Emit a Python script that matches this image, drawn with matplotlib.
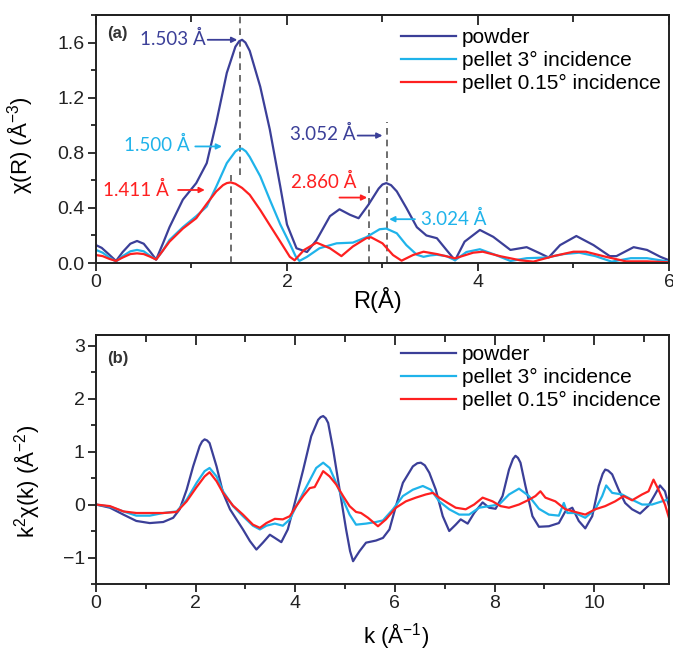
import matplotlib
matplotlib.use('Agg')

import matplotlib.pyplot as plt
from matplotlib.ticker import MultipleLocator, FormatStrFormatter

plt.rcParams['font.family'] = ['Liberation Sans', 'DejaVu Sans']
plt.rcParams['mathtext.fontset'] = 'custom'
plt.rcParams['mathtext.rm'] = 'Liberation Sans'
plt.rcParams['mathtext.it'] = 'Liberation Sans:italic'

# ---- (a) Fourier transform magnitude ----
r_powder = [0.0, 0.06, 0.14, 0.21, 0.28, 0.36, 0.43, 0.50, 0.57, 0.63, 0.70, 0.77, 0.91, 1.05,
            1.16, 1.26, 1.37, 1.46, 1.50, 1.53, 1.565, 1.61, 1.72, 1.82, 1.93, 2.0, 2.1, 2.21, 2.31, 2.45,
            2.55, 2.66, 2.75, 2.85, 2.96, 3.0, 3.04, 3.09, 3.15, 3.25, 3.36, 3.46, 3.57, 3.67, 3.76, 3.86,
            4.02, 4.16, 4.34, 4.51, 4.65, 4.74, 4.86, 5.03, 5.21, 5.38, 5.45, 5.63, 5.77, 5.91, 6.0]
chi_powder = [0.13, 0.11, 0.06, 0.015, 0.08, 0.14, 0.16, 0.14, 0.08, 0.025, 0.14, 0.26, 0.46, 0.58,
              0.725, 1.02, 1.38, 1.57, 1.61, 1.62, 1.60, 1.54, 1.28, 0.97, 0.555, 0.28, 0.107, 0.08, 0.167, 0.34,
              0.39, 0.35, 0.325, 0.42, 0.54, 0.57, 0.58, 0.565, 0.52, 0.40, 0.26, 0.20, 0.18, 0.095, 0.02, 0.155,
              0.24, 0.19, 0.095, 0.115, 0.07, 0.04, 0.13, 0.196, 0.13, 0.05, 0.05, 0.115, 0.095, 0.045, 0.02]

r_pellet3 = [0.0, 0.07, 0.14, 0.21, 0.28, 0.36, 0.43, 0.50, 0.57, 0.63, 0.70, 0.77, 0.91, 1.05, 1.16,
             1.26, 1.37, 1.46, 1.50, 1.53, 1.57, 1.61, 1.72, 1.82, 1.93, 2.03, 2.09, 2.13, 2.21, 2.34, 2.52, 2.69,
             2.83, 2.97, 3.04, 3.15, 3.25, 3.36, 3.43, 3.50, 3.57, 3.67, 3.76, 3.88, 4.02, 4.16, 4.34,
             4.51, 4.72, 4.9, 5.06, 5.23, 5.4, 5.6, 5.77, 6.0]
chi_pellet3 = [0.095, 0.075, 0.04, 0.01, 0.05, 0.085, 0.095, 0.085, 0.05, 0.025, 0.09, 0.167, 0.26, 0.34, 0.41,
               0.555, 0.725, 0.81, 0.828, 0.83, 0.81, 0.77, 0.63, 0.46, 0.28, 0.14, 0.05, 0.015, 0.045, 0.107, 0.143, 0.148,
               0.187, 0.245, 0.25, 0.216, 0.13, 0.06, 0.045, 0.055, 0.06, 0.05, 0.02, 0.08, 0.10, 0.065, 0.015,
               0.035, 0.04, 0.065, 0.075, 0.05, 0.01, 0.035, 0.035, 0.01]

r_pellet015 = [0.0, 0.07, 0.14, 0.21, 0.28, 0.36, 0.43, 0.50, 0.57, 0.63, 0.70, 0.77, 0.91, 1.05, 1.16,
               1.26, 1.33, 1.37, 1.41, 1.46, 1.53, 1.61, 1.72, 1.82, 1.93, 2.03, 2.08, 2.18, 2.31, 2.45, 2.57, 2.69,
               2.83, 2.88, 3.0, 3.11, 3.2, 3.32, 3.43, 3.57, 3.76, 3.95, 4.05, 4.23, 4.44, 4.58, 4.79,
               5.0, 5.13, 5.34, 5.55, 5.77, 6.0]
chi_pellet015 = [0.058, 0.05, 0.03, 0.015, 0.04, 0.065, 0.07, 0.065, 0.045, 0.025, 0.09, 0.155, 0.25, 0.325, 0.43,
                 0.52, 0.565, 0.58, 0.585, 0.575, 0.545, 0.495, 0.385, 0.275, 0.155, 0.045, 0.02, 0.095, 0.148, 0.107, 0.05, 0.12,
                 0.18, 0.187, 0.143, 0.058, 0.017, 0.058, 0.082, 0.065, 0.034, 0.075, 0.082, 0.05, 0.02, 0.01, 0.05,
                 0.082, 0.082, 0.045, 0.012, 0.012, 0.005]

# ---- (b) k-space oscillations ----
k_powder = [0, 0.28, 0.55, 0.81, 1.08, 1.35, 1.55, 1.68, 1.82, 1.95, 2.08, 2.13, 2.18, 2.23, 2.28, 2.42, 2.55, 2.69,
            2.82, 2.95, 3.09, 3.22, 3.35, 3.49, 3.59, 3.72, 3.85, 3.99, 4.16, 4.32, 4.46, 4.51, 4.56, 4.61, 4.66, 4.76,
            4.89, 5.02, 5.10, 5.16, 5.22, 5.29, 5.42, 5.62, 5.76, 5.89, 6.02, 6.16, 6.36, 6.45, 6.52, 6.60, 6.69, 6.82, 6.96, 7.09,
            7.22, 7.32, 7.46, 7.59, 7.76, 7.89, 8.02, 8.16, 8.29, 8.37, 8.42, 8.47, 8.52, 8.62, 8.76, 8.89, 9.09, 9.29,
            9.42, 9.56, 9.69, 9.82, 9.96, 10.09, 10.17, 10.22, 10.28, 10.36, 10.49, 10.62, 10.76, 10.92, 11.09, 11.22,
            11.32, 11.42, 11.5]
k2chi_powder = [0, -0.06, -0.19, -0.31, -0.35, -0.33, -0.25, -0.09, 0.28, 0.72, 1.1, 1.19, 1.23, 1.21, 1.16, 0.72, 0.22, -0.09,
                -0.28, -0.47, -0.69, -0.85, -0.72, -0.57, -0.63, -0.71, -0.47, 0.03, 0.66, 1.29, 1.6, 1.65, 1.67, 1.63, 1.54, 1.04,
                0.28, -0.47, -0.88, -1.07, -0.98, -0.88, -0.72, -0.68, -0.63, -0.47, -0.03, 0.41, 0.72, 0.78, 0.79, 0.74, 0.6, 0.28, -0.22, -0.5,
                -0.38, -0.28, -0.36, -0.16, 0.04, -0.06, -0.08, 0.16, 0.66, 0.86, 0.92, 0.88, 0.79, 0.35, -0.22, -0.42, -0.41, -0.35,
                -0.13, -0.06, -0.31, -0.45, -0.22, 0.35, 0.58, 0.66, 0.64, 0.57, 0.28, 0.03, -0.09, -0.17, -0.02, 0.19,
                0.36, 0.25, -0.03]

k_pellet3 = [0, 0.28, 0.55, 0.81, 1.08, 1.35, 1.62, 1.82, 2.02, 2.18, 2.28, 2.42, 2.55, 2.75, 2.95, 3.15,
             3.29, 3.42, 3.59, 3.75, 3.89, 4.02, 4.22, 4.42, 4.56, 4.69, 4.82, 4.96, 5.09, 5.22, 5.42, 5.62,
             5.76, 5.96, 6.16, 6.36, 6.56, 6.72, 6.89, 7.09, 7.29, 7.49, 7.69, 7.89, 8.09, 8.29, 8.49, 8.69,
             8.89, 9.09, 9.29, 9.39, 9.46, 9.62, 9.82, 10.02, 10.16, 10.24, 10.36, 10.56, 10.76, 10.96, 11.16,
             11.36, 11.5]
k2chi_pellet3 = [0, -0.04, -0.13, -0.21, -0.21, -0.16, -0.13, 0.09, 0.41, 0.63, 0.69, 0.53, 0.25, -0.03, -0.22, -0.4,
                 -0.47, -0.4, -0.36, -0.4, -0.28, -0.03, 0.33, 0.69, 0.79, 0.69, 0.41, 0.09, -0.19, -0.38, -0.36, -0.33,
                 -0.3, -0.09, 0.16, 0.28, 0.35, 0.28, 0.06, -0.09, -0.19, -0.19, -0.06, -0.03, 0.0, 0.19, 0.3, 0.16,
                 -0.08, -0.19, -0.21, 0.03, -0.16, -0.16, -0.25, -0.09, 0.16, 0.36, 0.22, 0.19, 0.09, 0.0, 0.0,
                 0.06, 0.1]

k_pellet015 = [0, 0.28, 0.55, 0.81, 1.08, 1.35, 1.62, 1.82, 2.02, 2.18, 2.28, 2.42, 2.55, 2.75, 2.95, 3.15,
               3.29, 3.42, 3.59, 3.75, 3.89, 4.02, 4.16, 4.29, 4.39, 4.56, 4.69, 4.82, 4.96, 5.09, 5.22, 5.32,
               5.46, 5.66, 5.82, 6.02, 6.22, 6.42, 6.62, 6.76, 6.89, 7.06, 7.22, 7.42, 7.59, 7.76, 7.96, 8.12,
               8.29, 8.49, 8.69, 8.82, 8.92, 9.02, 9.22, 9.42, 9.62, 9.82, 10.02, 10.22, 10.42, 10.59, 10.76,
               10.96, 11.09, 11.19, 11.29, 11.42, 11.5]
k2chi_pellet015 = [0, -0.03, -0.13, -0.16, -0.16, -0.16, -0.14, 0.06, 0.33, 0.53, 0.61, 0.44, 0.22, -0.02, -0.19, -0.38,
                   -0.44, -0.35, -0.27, -0.28, -0.22, -0.03, 0.16, 0.31, 0.33, 0.63, 0.53, 0.38, 0.16, -0.03, -0.14, -0.16,
                   -0.25, -0.41, -0.28, -0.06, 0.06, 0.13, 0.19, 0.22, 0.13, 0.03, -0.06, -0.09, 0.0, 0.13, 0.06, -0.03,
                   -0.06, 0.0, 0.09, 0.16, 0.25, 0.13, 0.06, -0.09, -0.14, -0.19, -0.09, -0.03, 0.06, 0.16, 0.08,
                   0.19, 0.25, 0.47, 0.28, 0.0, -0.25]

series_labels = ['powder', 'pellet 3° incidence', 'pellet 0.15° incidence']

# fitted first/second shell peak positions (Å)
peak_powder = [1.503, 3.052]
peak_pellet3 = [1.500, 3.024]
peak_pellet015 = [1.411, 2.860]

c_powder = '#3b3f98'
c_pellet3 = '#1fb3ea'
c_pellet015 = '#fe2020'

fig = plt.figure(figsize=(6.73, 6.52), dpi=100)
ax1 = fig.add_axes([0.1426, 0.5966, 0.8514, 0.3804])
ax2 = fig.add_axes([0.1426, 0.1043, 0.8514, 0.3819])

lw = 1.6
ax1.plot(r_powder, chi_powder, color=c_powder, lw=lw, label=series_labels[0])
ax1.plot(r_pellet3, chi_pellet3, color=c_pellet3, lw=lw, label=series_labels[1])
ax1.plot(r_pellet015, chi_pellet015, color=c_pellet015, lw=lw, label=series_labels[2])

ax2.plot(k_powder, k2chi_powder, color=c_powder, lw=lw, label=series_labels[0])
ax2.plot(k_pellet3, k2chi_pellet3, color=c_pellet3, lw=lw, label=series_labels[1])
ax2.plot(k_pellet015, k2chi_pellet015, color=c_pellet015, lw=lw, label=series_labels[2])

# dashed guide lines at the peak positions
dash_kw = dict(colors='#555555', linestyles=(0, (4, 3)), lw=1.2, zorder=1)
ax1.vlines(peak_powder[0], 0.64, 1.8, **dash_kw)
ax1.vlines(peak_pellet015[0], 0, 0.64, **dash_kw)
ax1.vlines(peak_powder[1], 0, 1.02, **dash_kw)
ax1.vlines(peak_pellet015[1], 0, 0.56, **dash_kw)

def mark(ax, value, color, text_xy, tail, tip, ha='right'):
    ax.annotate('', xy=tip, xytext=tail,
                arrowprops=dict(arrowstyle='-|>', color=color, lw=1.3,
                                mutation_scale=8, shrinkA=0, shrinkB=0))
    ax.text(text_xy[0], text_xy[1], f'{value:.3f} Å', color=color, fontsize=13.5,
            family='Lato', ha=ha, va='center')

mark(ax1, peak_powder[0], c_powder, (1.15, 1.625), (1.17, 1.62), (1.48, 1.62))
mark(ax1, peak_pellet3[0], c_pellet3, (0.98, 0.855), (1.04, 0.846), (1.32, 0.846))
mark(ax1, peak_pellet015[0], c_pellet015, (0.76, 0.53), (0.86, 0.53), (1.14, 0.53))
mark(ax1, peak_powder[1], c_powder, (2.72, 0.935), (2.74, 0.925), (3.0, 0.925))
mark(ax1, peak_pellet015[1], c_pellet015, (2.73, 0.585), (2.55, 0.475), (2.84, 0.475))
mark(ax1, peak_pellet3[1], c_pellet3, (3.40, 0.318), (3.34, 0.318), (3.07, 0.318), ha='left')

ax1.text(0.02, 0.925, '(a)', transform=ax1.transAxes, fontsize=12, fontweight='bold',
         color='#333333', va='center')
ax2.text(0.02, 0.905, '(b)', transform=ax2.transAxes, fontsize=12, fontweight='bold',
         color='#333333', va='center')

ax1.set_xlim(0, 6)
ax1.set_ylim(0, 1.8)
ax1.xaxis.set_major_locator(MultipleLocator(2))
ax1.xaxis.set_minor_locator(MultipleLocator(1))
ax1.yaxis.set_major_locator(MultipleLocator(0.4))
ax1.yaxis.set_minor_locator(MultipleLocator(0.2))
ax1.yaxis.set_major_formatter(FormatStrFormatter('%.1f'))

ax2.set_xlim(0, 11.5)
ax2.set_ylim(-1.5, 3.2)
ax2.xaxis.set_major_locator(MultipleLocator(2))
ax2.xaxis.set_minor_locator(MultipleLocator(1))
ax2.yaxis.set_major_locator(MultipleLocator(1))
ax2.yaxis.set_minor_locator(MultipleLocator(0.5))

for ax in (ax1, ax2):
    for side in ('left', 'bottom', 'top', 'right'):
        ax.spines[side].set_linewidth(1.4)
        ax.spines[side].set_color('#222222')
    ax.tick_params(which='major', direction='out', length=6, width=1.3, labelsize=14,
                   pad=2, colors='#222222')
    ax.tick_params(which='minor', direction='out', length=3.5, width=1.3, colors='#222222')
    top = ax.secondary_xaxis('top')
    top.xaxis.set_major_locator(MultipleLocator(2))
    top.xaxis.set_minor_locator(MultipleLocator(1))
    top.tick_params(which='major', direction='in', length=7, width=1.3, labeltop=False,
                    colors='#222222')
    top.tick_params(which='minor', direction='in', length=5, width=1.3, colors='#222222')
    top.spines['top'].set_linewidth(1.4)
    ax.legend(loc='upper left', bbox_to_anchor=(0.533, 0.96 if ax is ax2 else 0.948),
              frameon=False, fontsize=15, handlelength=2.6, handletextpad=0.3,
              labelspacing=0.2, borderpad=0, borderaxespad=0)

ax1.set_ylabel('χ(R) (Å$^{-3}$)', fontsize=16)
ax1.yaxis.set_label_coords(-0.106, 0.476)
ax1.set_xlabel('R(Å)', fontsize=17)
ax1.xaxis.set_label_coords(0.492, -0.095)

ax2.set_ylabel('k$^{2}$χ(k) (Å$^{-2}$)', fontsize=16)
ax2.yaxis.set_label_coords(-0.094, 0.411)
ax2.set_xlabel('k (Å$^{-1}$)', fontsize=16)
ax2.xaxis.set_label_coords(0.524, -0.15)

fig.savefig('out.png', dpi=100, facecolor='white')
